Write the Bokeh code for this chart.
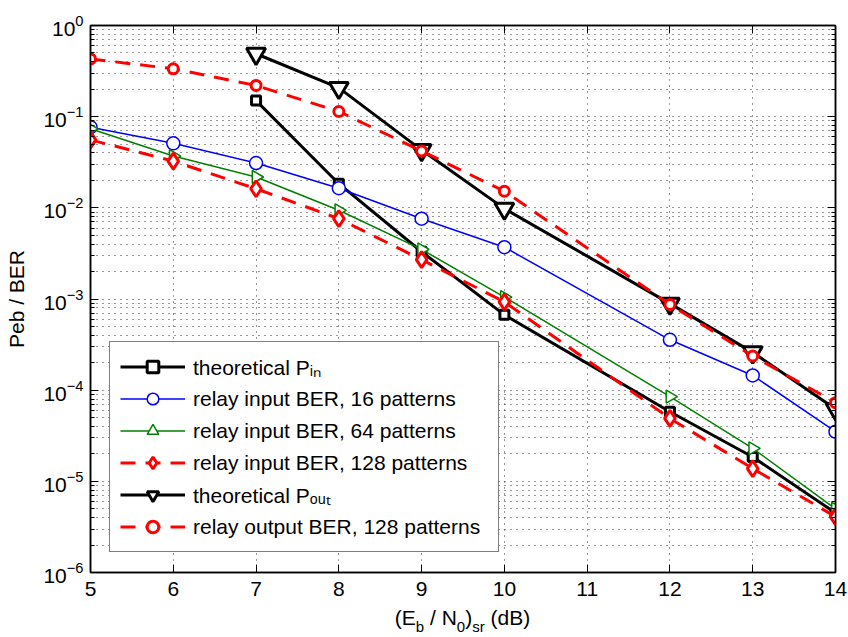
import math
from bokeh.plotting import figure
from bokeh.layouts import column
from bokeh.models import (Range1d, LinearAxis, LogAxis, FixedTicker, Legend,
                          LegendItem, CustomJSTickFormatter, Div)
from bokeh.embed import file_html
from bokeh.resources import INLINE

# ---------------- data ----------------
snr = [5, 6, 7, 8, 9, 10, 12, 13, 14]
snr_theory = [7, 8, 9, 10, 12, 13, 14]
p_in_theory = [0.15, 0.0184, 3.3e-3, 6.7e-4, 5.8e-5, 1.85e-5, 4.5e-6]
ber_in_16 = [0.0767, 0.051, 0.031, 0.0164, 7.6e-3, 3.7e-3, 3.57e-4, 1.45e-4, 3.5e-5]
ber_in_64 = [0.0736, 0.037, 0.0218, 9.4e-3, 3.5e-3, 1.05e-3, 8.5e-5, 2.3e-5, 5.0e-6]
ber_in_128 = [0.0557, 0.0325, 0.0162, 7.6e-3, 2.7e-3, 9.3e-4, 4.9e-5, 1.38e-5, 4.1e-6]
p_out_theory = [0.49, 0.207, 0.043, 9.8e-3, 8.9e-4, 2.6e-4, 6.2e-5]
ber_out_128 = [0.43, 0.335, 0.22, 0.114, 0.042, 0.0152, 8.7e-4, 2.37e-4, 7.3e-5]

x_ticks = [5, 6, 7, 8, 9, 10, 11, 12, 13, 14]
y_exponents = [0, -1, -2, -3, -4, -5, -6]

legend_labels = ["theoretical P\u1d62\u2099", "relay input BER, 16 patterns",
                 "relay input BER, 64 patterns", "relay input BER, 128 patterns",
                 "theoretical P\u2092\u1d64\u209c", "relay output BER, 128 patterns"]

FONT = "Liberation Sans"
FS = 21
SUB = 15

# Arial/Liberation Sans advance widths (per 1000 em)
W = {'(': 333, ')': 333, 'E': 667, 'b': 556, ' ': 278, '/': 278, 'N': 722, '0': 556,
     's': 500, 'r': 333, 'd': 556, 'B': 667}


def tw(s, size):
    return sum(W.get(c, 556) for c in s) * size / 1000.0


p = figure(width=848, height=606, x_range=Range1d(5, 14), y_range=Range1d(1e-6, 1),
           y_axis_type="log", output_backend="svg", toolbar_location=None,
           min_border_left=90, min_border_right=13, min_border_top=25, min_border_bottom=34)
p.background_fill_color = "white"
p.border_fill_color = "white"
p.outline_line_color = "black"
p.outline_line_width = 1.5

y_decades = [10.0 ** e for e in y_exponents]
y_minor = [m * 10.0 ** e for e in y_exponents[1:] for m in range(2, 10)]
xt = FixedTicker(ticks=x_ticks)
yt = FixedTicker(ticks=y_decades, minor_ticks=y_minor)
blank = CustomJSTickFormatter(code="return ''")


def style_axis(ax):
    ax.major_tick_in = 8
    ax.major_tick_out = 0
    ax.minor_tick_in = 4
    ax.minor_tick_out = 0
    ax.axis_line_color = "black"
    ax.axis_line_width = 1.5
    ax.major_tick_line_color = "black"
    ax.minor_tick_line_color = "black"
    ax.major_label_text_font = FONT
    ax.major_label_text_font_size = f"{FS}px"
    ax.major_label_text_color = "black"


xax = p.xaxis[0]
xax.ticker = xt
style_axis(xax)
xax.minor_tick_line_color = None
xax.major_label_standoff = 9

yax = p.yaxis[0]
yax.ticker = yt
style_axis(yax)
yax.major_label_standoff = 7
yax.axis_label = "Peb / BER"
yax.axis_label_text_font = FONT
yax.axis_label_text_font_size = f"{FS}px"
yax.axis_label_text_font_style = "normal"
yax.axis_label_text_color = "black"
yax.axis_label_standoff = 12

top_ax = LinearAxis(ticker=xt, formatter=blank)
style_axis(top_ax)
top_ax.minor_tick_line_color = None
top_ax.major_label_standoff = 0
p.add_layout(top_ax, "above")

right_ax = LogAxis(ticker=yt, formatter=blank)
style_axis(right_ax)
right_ax.major_label_standoff = 0
p.add_layout(right_ax, "right")

p.xgrid.ticker = xt
p.ygrid.ticker = yt
for g in (p.xgrid, p.ygrid):
    g.grid_line_color = "black"
    g.grid_line_alpha = 0.8
    g.grid_line_dash = "1 5"
    g.grid_line_width = 1
p.ygrid.minor_grid_line_color = "black"
p.ygrid.minor_grid_line_alpha = 0.8
p.ygrid.minor_grid_line_dash = "1 5"

# ---------------- series ----------------
DASH = "15 10"
r = []
l1 = p.line(snr_theory, p_in_theory, line_color="black", line_width=3)
s1 = p.scatter(snr_theory, p_in_theory, marker="square", size=9, line_color="black",
               line_width=3, fill_color="white")
r.append([l1, s1])
l2 = p.line(snr, ber_in_16, line_color="#0000ff", line_width=1.5)
s2 = p.scatter(snr, ber_in_16, marker="circle", size=13, line_color="#0000ff",
               line_width=1.5, fill_color="white")
r.append([l2, s2])
l3 = p.line(snr, ber_in_64, line_color="#008000", line_width=1.5)
s3 = p.scatter(snr, ber_in_64, marker="triangle", size=13, angle=-math.pi / 2,
               line_color="#008000", line_width=1.5, fill_color="white")
r.append([l3, s3])
l4 = p.line(snr, ber_in_128, line_color="#ff0000", line_width=3, line_dash=DASH)
s4 = p.scatter(snr, ber_in_128, marker="diamond", size=16, line_color="#ff0000",
               line_width=3, fill_color="white")
r.append([l4, s4])
l5 = p.line(snr_theory, p_out_theory, line_color="black", line_width=3)
s5 = p.scatter(snr_theory, p_out_theory, marker="inverted_triangle", size=19,
               line_color="black", line_width=3, fill_color="white")
r.append([l5, s5])
l6 = p.line(snr, ber_out_128, line_color="#ff0000", line_width=3, line_dash=DASH)
s6 = p.scatter(snr, ber_out_128, marker="circle", size=10, line_color="#ff0000",
               line_width=3, fill_color="white")
r.append([l6, s6])

legend = Legend(items=[LegendItem(label=lab, renderers=rr) for lab, rr in zip(legend_labels, r)],
                location=(19, 20), padding=10, spacing=3, label_height=29, glyph_height=29,
                glyph_width=65, label_standoff=8, label_width=295,
                label_text_font=FONT, label_text_font_size=f"{FS}px",
                label_text_color="black", border_line_color="black", border_line_width=1,
                background_fill_color="white", background_fill_alpha=1.0, margin=0)
p.add_layout(legend)

# x axis title with subscripts, as HTML below the figure
runs = [("(E", FS), ("b", SUB), (" / N", FS), ("0", SUB), (")", FS), ("sr", SUB), (" (dB)", FS)]
total = sum(tw(t, s) for t, s in runs)
x0 = 462.5 - total / 2.0


def sub(t):
    return f'<span style="font-size:{SUB}px;position:relative;top:7px;">{t}</span>'


title_html = (
    f'<div style="position:relative;width:848px;height:31px;font-family:\'{FONT}\';'
    f'font-size:{FS}px;color:#000;margin:0;padding:0;">'
    f'<span style="position:absolute;left:{x0:.1f}px;top:1px;line-height:21px;white-space:pre;">'
    f'(E{sub("b")} / N{sub("0")}){sub("sr")} (dB)</span></div>'
)
xtitle = Div(text=title_html, width=848, height=31, margin=(0, 0, 0, 0))

layout = column(p, xtitle, spacing=0)
open("out.html", "w").write(file_html(layout, INLINE))
